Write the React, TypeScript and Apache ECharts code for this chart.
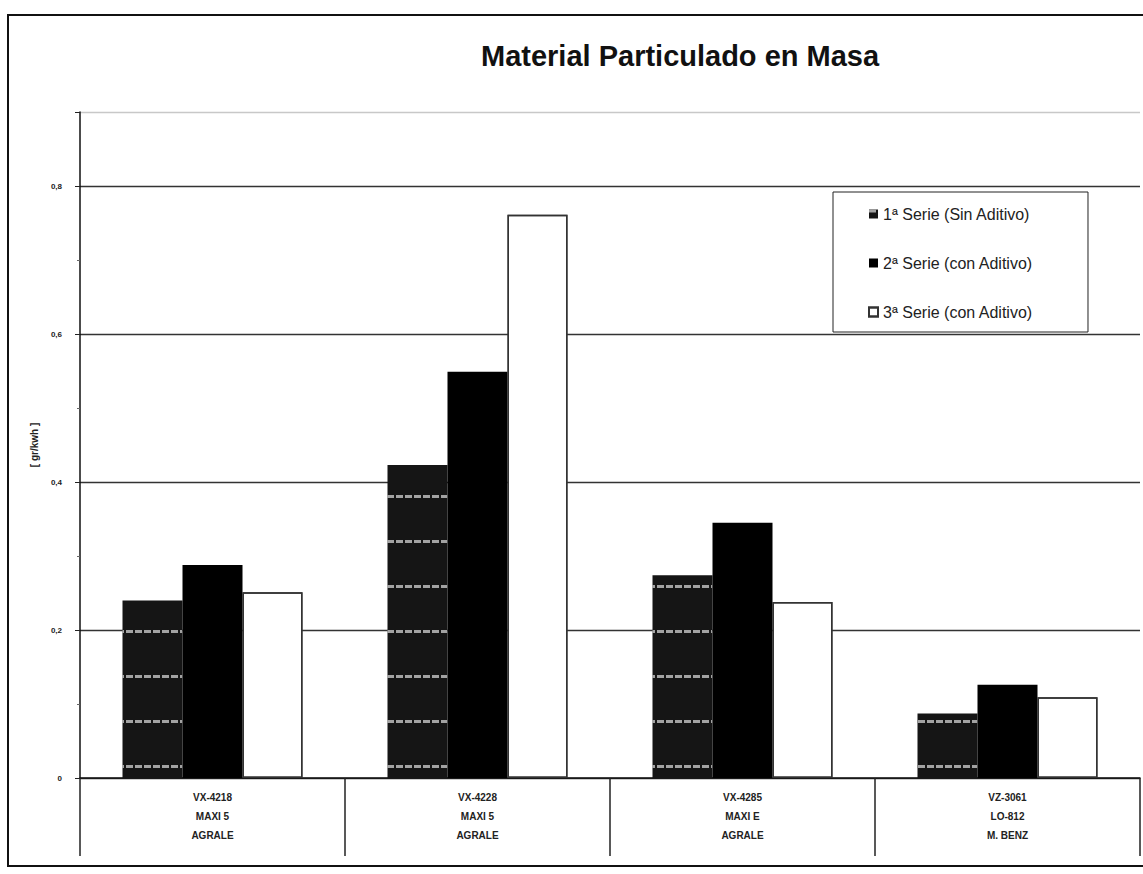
import React, { useEffect, useRef } from "react";
import * as echarts from "echarts";

const titleText = "Material Particulado en Masa";
const yAxisName = "[ gr/kwh ]";
const categories = [
  "VX-4218\nMAXI 5\nAGRALE",
  "VX-4228\nMAXI 5\nAGRALE",
  "VX-4285\nMAXI E\nAGRALE",
  "VZ-3061\nLO-812\nM. BENZ",
];
const seriesNames = [
  "1ª Serie (Sin Aditivo)",
  "2ª Serie (con Aditivo)",
  "3ª Serie (con Aditivo)",
];
const serie1 = [0.24, 0.423, 0.274, 0.087];
const serie2 = [0.288, 0.549, 0.345, 0.126];
const serie3 = [0.251, 0.761, 0.238, 0.109];
const yTickLabels = ["0", "0,2", "0,4", "0,6", "0,8"];

const FONT = "'Liberation Sans', Arial, sans-serif";

export default function App() {
  const ref = useRef<HTMLDivElement>(null);
  useEffect(() => {
    if (!ref.current) return;
    const chart = echarts.init(ref.current, null, { renderer: "svg" });
    const option: any = {
      animation: false,
      backgroundColor: "#ffffff",
      aria: { enabled: true, decal: { show: true } },
      title: {
        text: titleText,
        left: 476,
        top: 36,
        textStyle: { fontFamily: FONT, fontSize: 29, fontWeight: "bold", color: "#111" },
      },
      legend: {
        orient: "vertical",
        left: 833,
        top: 192,
        padding: [14, 55, 12, 35],
        itemGap: 33,
        itemWidth: 9,
        itemHeight: 9,
        icon: "rect",
        borderColor: "#222",
        borderWidth: 1,
        borderRadius: 0,
        backgroundColor: "#fff",
        textStyle: { fontFamily: FONT, fontSize: 16, color: "#222" },
        data: seriesNames,
      },
      grid: { left: 80, top: 112, right: 3, bottom: 96, containLabel: false },
      xAxis: {
        type: "category",
        data: categories,
        axisLine: { lineStyle: { color: "#111", width: 1.5 } },
        axisTick: { show: true, length: 78, lineStyle: { color: "#222", width: 1.5 } },
        axisLabel: {
          fontFamily: FONT,
          fontSize: 10,
          fontWeight: "bold",
          color: "#222",
          lineHeight: 19,
          margin: 10,
        },
      },
      yAxis: {
        type: "value",
        min: 0,
        max: 0.9,
        interval: 0.2,
        name: yAxisName,
        nameLocation: "middle",
        nameRotate: 90,
        nameGap: 40,
        nameTextStyle: { fontFamily: FONT, fontSize: 10, fontWeight: "bold", color: "#222" },
        axisLine: { show: true, lineStyle: { color: "#111", width: 1.5 } },
        axisTick: { show: true, length: 5, lineStyle: { color: "#222" } },
        minorTick: { show: true, splitNumber: 2, length: 3, lineStyle: { color: "#666" } },
        axisLabel: {
          fontFamily: FONT,
          fontSize: 8,
          fontWeight: "bold",
          color: "#222",
          margin: 18,
          formatter: (v: number) => {
            const idx = Math.round(v / 0.2);
            if (Math.abs(v - idx * 0.2) > 1e-6) return "";
            return yTickLabels[idx] ?? "";
          },
        },
        splitLine: {
          show: true,
          lineStyle: {
            color: ["#333", "#333", "#333", "#333", "#333", "#c8c8c8"],
            width: 1.3,
          },
        },
      },
      series: [
        {
          name: seriesNames[0],
          type: "bar",
          data: serie1,
          barWidth: 60,
          barGap: "0%",
          itemStyle: {
            color: "#151515",
            decal: {
              symbol: "rect",
              symbolSize: 1,
              color: "rgba(210,210,210,0.75)",
              dashArrayX: [7, 2],
              dashArrayY: [3, 42],
              rotation: 0,
            },
          },
        },
        {
          name: seriesNames[1],
          type: "bar",
          data: serie2,
          barWidth: 60,
          barGap: "0%",
          itemStyle: { color: "#000", decal: { symbol: "none" } },
        },
        {
          name: seriesNames[2],
          type: "bar",
          data: serie3,
          barWidth: 60,
          barGap: "0%",
          itemStyle: { color: "#fff", borderColor: "#333", borderWidth: 1.5, decal: { symbol: "none" } },
        },
      ],
      graphic: [
        {
          type: "rect",
          shape: { x: 8, y: 15, width: 1160, height: 851 },
          style: { fill: "none", stroke: "#111", lineWidth: 2 },
          silent: true,
          z: 100,
        },
      ],
    };
    chart.setOption(option);
    return () => chart.dispose();
  }, []);
  return (
    <div
      ref={ref}
      style={{ position: "absolute", left: 0, top: 0, width: 1143, height: 874 }}
    />
  );
}
